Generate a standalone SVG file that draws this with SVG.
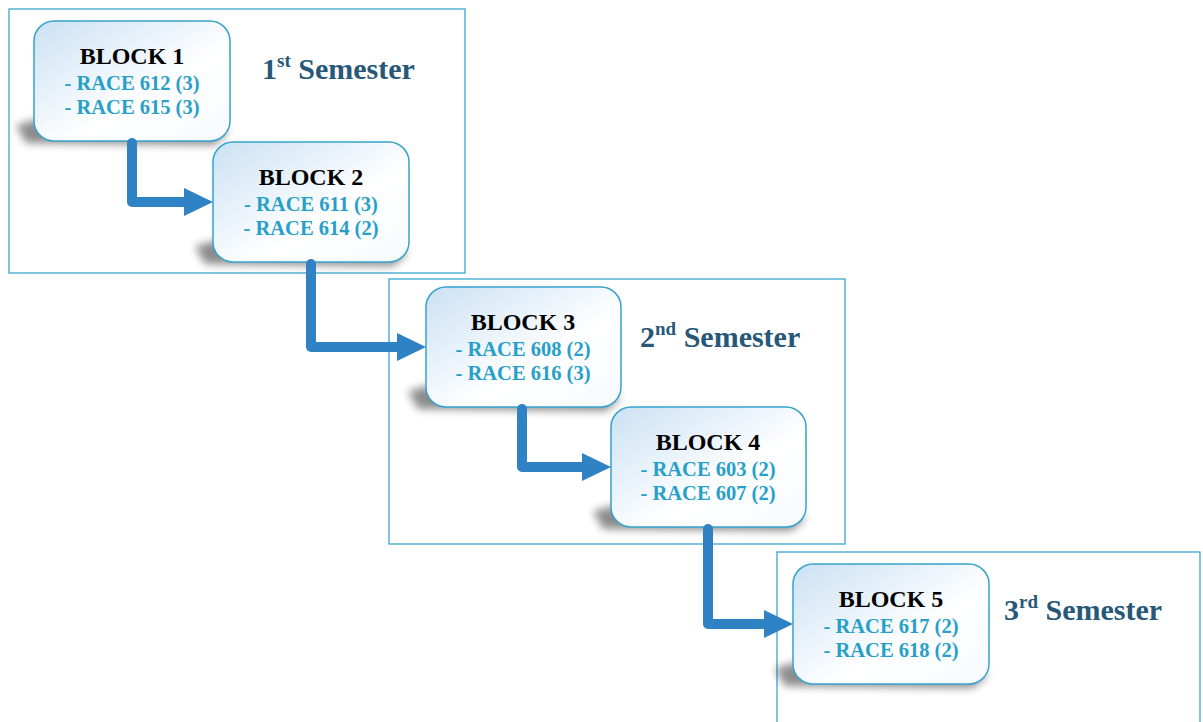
<svg xmlns="http://www.w3.org/2000/svg" width="1203" height="722" viewBox="0 0 1203 722">
<style>
.frame{fill:none;stroke:#3aa7cf;stroke-width:1.3}
.box{fill:url(#g);stroke:#36a3cd;stroke-width:1.5}
.shadow{fill:#000;opacity:0.45;filter:url(#blur)}
.title{font-family:"Liberation Serif","Times New Roman",serif;font-weight:bold;font-size:24px;fill:#000;text-anchor:middle}
.item{font-family:"Liberation Serif","Times New Roman",serif;font-weight:bold;font-size:20.5px;fill:#27a0c9;text-anchor:middle}
.sem{font-family:"Liberation Serif","Times New Roman",serif;font-weight:bold;font-size:30px;fill:#275878}
.sup{font-size:19px}
.conn{fill:none;stroke:#2f82c3;stroke-width:10;stroke-linejoin:round;stroke-linecap:round}
.head{fill:#2f82c3}
</style>
<defs>
<linearGradient id="g" x1="0" y1="0" x2="1" y2="1">
<stop offset="0" stop-color="#cae1f3"/>
<stop offset="0.6" stop-color="#ffffff"/>
<stop offset="1" stop-color="#f6fafd"/>
</linearGradient>
<filter id="blur" x="-50%" y="-50%" width="200%" height="200%"><feGaussianBlur stdDeviation="4"/></filter>
<path id="sh" d="M30,92 L-18,104 L-8,122 L180,124 L196,110 Z"/>
</defs>
<rect width="1203" height="722" fill="#fff"/>
<g id="frames">
<rect class="frame" x="9" y="9" width="456" height="264"/>
<rect class="frame" x="389" y="279" width="456" height="265"/>
<rect class="frame" x="777" y="552" width="423" height="175"/>
</g>
<g id="semesters">
<text class="sem" x="262" y="79">1<tspan class="sup" dy="-12">st</tspan><tspan dy="12"> Semester</tspan></text>
<text class="sem" x="640" y="347">2<tspan class="sup" dy="-12">nd</tspan><tspan dy="12"> Semester</tspan></text>
<text class="sem" x="1004" y="620">3<tspan class="sup" dy="-12">rd</tspan><tspan dy="12"> Semester</tspan></text>
</g>
<g id="block1">
<use href="#sh" class="shadow" x="34" y="21"/>
<rect class="box" x="34" y="21" width="196" height="120" rx="20"/>
<text class="title" x="132" y="64">BLOCK 1</text>
<text class="item" x="132" y="90">- RACE 612 (3)</text>
<text class="item" x="132" y="114">- RACE 615 (3)</text>
</g>
<g id="block2">
<use href="#sh" class="shadow" x="213" y="142"/>
<rect class="box" x="213" y="142" width="196" height="120" rx="20"/>
<text class="title" x="311" y="185">BLOCK 2</text>
<text class="item" x="311" y="211">- RACE 611 (3)</text>
<text class="item" x="311" y="235">- RACE 614 (2)</text>
</g>
<g id="block3">
<use href="#sh" class="shadow" x="426" y="287"/>
<rect class="box" x="426" y="287" width="195" height="120" rx="20"/>
<text class="title" x="523" y="330">BLOCK 3</text>
<text class="item" x="523" y="356">- RACE 608 (2)</text>
<text class="item" x="523" y="380">- RACE 616 (3)</text>
</g>
<g id="block4">
<use href="#sh" class="shadow" x="611" y="407"/>
<rect class="box" x="611" y="407" width="195" height="120" rx="20"/>
<text class="title" x="708" y="450">BLOCK 4</text>
<text class="item" x="708" y="476">- RACE 603 (2)</text>
<text class="item" x="708" y="500">- RACE 607 (2)</text>
</g>
<g id="block5">
<use href="#sh" class="shadow" x="793" y="564"/>
<rect class="box" x="793" y="564" width="196" height="120" rx="20"/>
<text class="title" x="891" y="607">BLOCK 5</text>
<text class="item" x="891" y="633">- RACE 617 (2)</text>
<text class="item" x="891" y="657">- RACE 618 (2)</text>
</g>
<g id="connectors">
<path class="conn" d="M132,143 V202 H187"/>
<polygon class="head" points="184,188 213,202 184,216"/>
<path class="conn" d="M311,264 V347 H399"/>
<polygon class="head" points="397,333 426,347 397,361"/>
<path class="conn" d="M522,409 V467 H584"/>
<polygon class="head" points="582,453 611,467 582,481"/>
<path class="conn" d="M708,529 V624 H766"/>
<polygon class="head" points="764,610 793,624 764,638"/>
</g>
</svg>
